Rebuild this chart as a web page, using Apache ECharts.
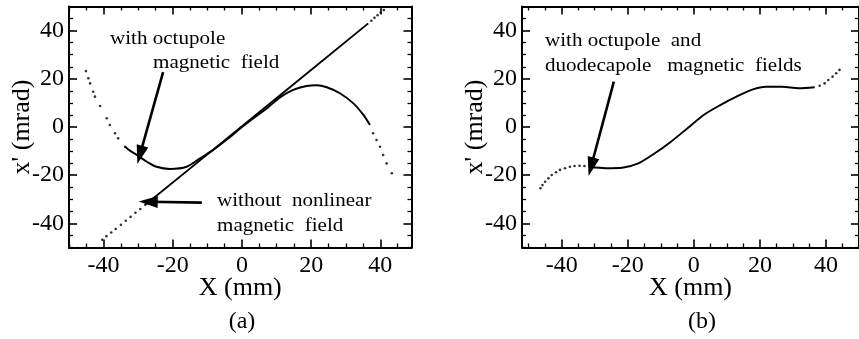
<!DOCTYPE html>
<html>
<head>
<meta charset="utf-8">
<script src="https://cdn.jsdelivr.net/npm/echarts@6/dist/echarts.min.js"></script>
<style>
  html, body { margin: 0; padding: 0; background: #fff; }
  #chart { width: 859px; height: 339px; }
</style>
</head>
<body>
<div id="chart"></div>
<script>
// tick labels and minor tick positions (mm / mrad)
const tickLabels = [-40, -20, 0, 20, 40]
const minorTicks = [-50, -45, -35, -30, -25, -15, -10, -5, 5, 10, 15, 25, 30, 35, 45]

// panel (a): with octupole field, sparse ends drawn as dots
const octupoleDotsLeft = [[-45.1, 23.2], [-44.4, 20.2], [-43.9, 18.1], [-43.0, 14.6], [-42.5, 12.6], [-41.0, 8.7], [-39.1, 3.6], [-38.2, 0.8], [-36.7, -2.6], [-35.8, -4.7], [-33.8, -8.2]]
const octupoleSolid = [[-33.8, -8.2], [-32.4, -9.8], [-30.4, -11.6], [-27.5, -14.4], [-24.7, -16.5], [-20.8, -17.4], [-16.0, -16.5], [-12.1, -13.0], [-8.3, -9.5], [-4.0, -4.8], [0.0, 0.0], [4.0, 4.4], [7.1, 7.6], [11.0, 12.3], [14.8, 15.4], [18.7, 17.0], [21.6, 17.3], [24.5, 16.5], [28.3, 14.0], [32.2, 9.8], [35.1, 5.0], [37.0, 0.8]]
const octupoleDotsRight = [[37.9, -2.6], [38.9, -5.4], [39.9, -8.2], [40.8, -11.6], [41.8, -15.1], [43.3, -19.2]]

// panel (a): without nonlinear field
const linearDotsLow = [[-40.4, -46.8], [-39.2, -45.3], [-37.8, -43.8], [-36.5, -42.3], [-35.0, -40.6], [-33.6, -38.9], [-32.2, -37.3], [-30.8, -35.6], [-29.4, -34.0]]
const linearSolid = [[-28.2, -32.6], [0.0, 0.3], [36.5, 43.0]]
const linearDotsHigh = [[37.4, 44.1], [38.3, 45.3], [39.2, 46.4], [40.1, 47.4], [41.0, 48.5]]

// panel (b): with octupole and duodecapole fields
const combinedDotsLeft = [[-46.4, -25.4], [-45.8, -24.1], [-45.0, -22.7], [-44.0, -21.3], [-43.0, -19.9], [-41.7, -18.8], [-40.5, -17.8], [-39.0, -17.1], [-37.5, -16.5], [-36.1, -16.2], [-34.6, -16.1], [-33.1, -16.2]]
const combinedSolid = [[-31.6, -16.5], [-26.6, -17.1], [-21.7, -16.9], [-16.8, -15.1], [-11.8, -10.9], [-6.9, -6.1], [-1.9, -0.5], [3.0, 5.0], [8.0, 9.1], [12.9, 12.6], [17.9, 15.6], [21.8, 16.7], [26.8, 16.7], [31.7, 16.1], [36.6, 16.5]]
const combinedDotsRight = [[38.1, 17.1], [39.6, 18.1], [40.7, 19.5], [42.0, 20.9], [43.1, 22.3], [44.1, 23.7]]

const serif = 'Liberation Serif'
const ink = '#000'

function frameAxes(dim, gridIndex, min, max) {
	const sides = dim === 'x' ? ['bottom', 'top'] : ['left', 'right']
	const base = {
		gridIndex,
		type: 'value',
		min,
		max,
		splitLine: { show: false },
		axisLabel: { show: false },
	}
	const axes = []
	sides.forEach((side, i) => {
		const major = {
			...base,
			position: side,
			axisLine: { show: true, onZero: false, lineStyle: { color: ink, width: 2 } },
			axisTick: { show: true, inside: true, length: 8, customValues: tickLabels, lineStyle: { color: ink, width: 1.6 } },
		}
		if (i === 0) {
			major.axisLabel = {
				show: true,
				customValues: tickLabels,
				margin: dim === 'x' ? 6 : 5,
				color: ink,
				fontFamily: serif,
				fontSize: 24,
			}
			major.name = dim === 'x' ? 'X (mm)' : "x' (mrad)"
			major.nameLocation = 'middle'
			major.nameMoveOverlap = false
			major.nameGap = dim === 'x' ? 28 : 34
			major.nameTextStyle = { color: ink, fontFamily: serif, fontSize: 26 }
		}
		axes.push(major)
		axes.push({
			...base,
			position: side,
			axisLine: { show: false, onZero: false },
			axisTick: { show: true, inside: true, length: 4, customValues: minorTicks, lineStyle: { color: ink, width: 1.3 } },
		})
	})
	return axes
}

const arrowStyle = {
	silent: true,
	animation: false,
	symbol: ['none', 'triangle'],
	symbolSize: [12, 19],
	label: { show: false },
	lineStyle: { color: ink, width: 2.6, type: 'solid' },
}

function solid(data, gridIndex, arrows) {
	const axisIndex = gridIndex * 4
	return {
		type: 'line',
		xAxisIndex: axisIndex,
		yAxisIndex: axisIndex,
		data,
		showSymbol: false,
		smooth: 0.3,
		lineStyle: { color: ink, width: 1.9 },
		markLine: arrows ? { ...arrowStyle, data: arrows } : undefined,
	}
}

function dots(data, gridIndex) {
	const axisIndex = gridIndex * 4
	return {
		type: 'scatter',
		xAxisIndex: axisIndex,
		yAxisIndex: axisIndex,
		data,
		symbolSize: 2.6,
		itemStyle: { color: ink },
	}
}

function note(text, left, top) {
	return {
		type: 'text',
		x: left,
		y: top,
		scaleX: 1.17,
		style: { text, fill: ink, font: `18px "${serif}"`, textVerticalAlign: 'middle' },
	}
}

const chart = echarts.init(document.getElementById('chart'), null, { renderer: 'canvas' })

chart.setOption({
	animation: false,
	backgroundColor: '#fff',
	grid: [
		{ left: 69, top: 6.5, width: 342.5, height: 241 },
		{ left: 522, top: 6.5, width: 344, height: 241 },
	],
	xAxis: [...frameAxes('x', 0, -50, 49), ...frameAxes('x', 1, -52, 50)],
	yAxis: [...frameAxes('y', 0, -50, 50), ...frameAxes('y', 1, -50, 50)],
	series: [
		solid(octupoleSolid, 0, [[{ coord: [-22.8, 22.8] }, { coord: [-29.5, -11.6] }]]),
		dots(octupoleDotsLeft, 0),
		dots(octupoleDotsRight, 0),
		solid(linearSolid, 0, [[{ coord: [-11.6, -31.4] }, { coord: [-27.1, -31.0] }]]),
		dots(linearDotsLow, 0),
		dots(linearDotsHigh, 0),
		solid(combinedSolid, 1, [[{ coord: [-24.2, 18.8] }, { coord: [-31.1, -16.5] }]]),
		dots(combinedDotsLeft, 1),
		dots(combinedDotsRight, 1),
	],
	graphic: [
		note('with octupole', 110, 39),
		note('magnetic  field', 153, 63),
		note('without  nonlinear', 217, 201),
		note('magnetic  field', 217, 226),
		note('with octupole  and', 545, 41),
		note('duodecapole   magnetic  fields', 545, 66),
		{ type: 'text', x: 242, y: 322, style: { text: '(a)', fill: ink, font: `24px "${serif}"`, textAlign: 'center', textVerticalAlign: 'middle' } },
		{ type: 'text', x: 702, y: 322, style: { text: '(b)', fill: ink, font: `24px "${serif}"`, textAlign: 'center', textVerticalAlign: 'middle' } },
	],
})
</script>
</body>
</html>
